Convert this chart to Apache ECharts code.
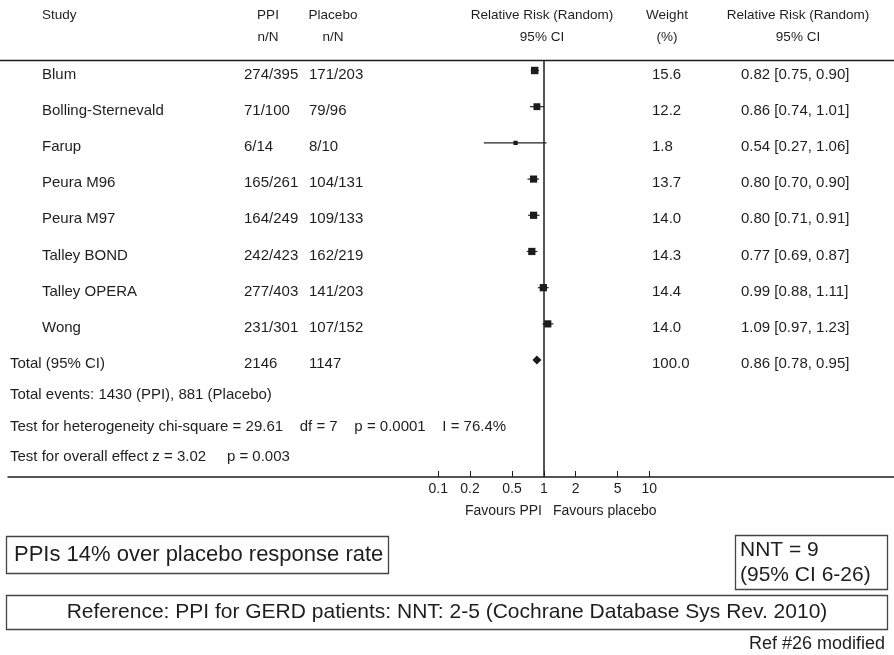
<!DOCTYPE html>
<html>
<head>
<meta charset="utf-8">
<script src="https://cdn.jsdelivr.net/npm/echarts@6/dist/echarts.min.js"></script>
<style>
  html, body { margin: 0; padding: 0; background: #ffffff; }
  #chart { width: 894px; height: 655px; }
</style>
</head>
<body>
<div id="chart"></div>
<script>
// ---- Study-level data (PPI vs placebo, relative risk, random effects) ----
const studies = ['Blum', 'Bolling-Sternevald', 'Farup', 'Peura M96', 'Peura M97', 'Talley BOND', 'Talley OPERA', 'Wong'];
const ppiEvents = [274, 71, 6, 165, 164, 242, 277, 231];
const ppiTotal = [395, 100, 14, 261, 249, 423, 403, 301];
const placeboEvents = [171, 79, 8, 104, 109, 162, 141, 107];
const placeboTotal = [203, 96, 10, 131, 133, 219, 203, 152];
const weights = [15.6, 12.2, 1.8, 13.7, 14.0, 14.3, 14.4, 14.0];
const rr = [0.82, 0.86, 0.54, 0.80, 0.80, 0.77, 0.99, 1.09];
const rrLow = [0.75, 0.74, 0.27, 0.70, 0.71, 0.69, 0.88, 0.97];
const rrHigh = [0.90, 1.01, 1.06, 0.90, 0.91, 0.87, 1.11, 1.23];

// ---- Pooled estimate ----
const totalLabel = 'Total (95% CI)';
const totalPpiN = 2146;
const totalPlaceboN = 1147;
const totalWeight = 100.0;
const totalRR = 0.86;
const totalLow = 0.78;
const totalHigh = 0.95;

// ---- Axis ticks ----
const tickValues = [0.1, 0.2, 0.5, 1, 2, 5, 10];

// ---- Summary lines ----
const summaryLines = [
  'Total events: 1430 (PPI), 881 (Placebo)',
  'Test for heterogeneity chi-square = 29.61    df = 7    p = 0.0001    I = 76.4%',
  'Test for overall effect z = 3.02     p = 0.003'
];

const FONT = '"Liberation Sans", Arial, Helvetica, sans-serif';
const INK = '#1e1e1e';
const tableFont = '15px ' + FONT;
const headFont = '13.5px ' + FONT;

const fmt2 = v => v.toFixed(2);
const ciText = (m, l, h) => fmt2(m) + ' [' + fmt2(l) + ', ' + fmt2(h) + ']';

// Column anchors (pixels)
const COL = { study: 42, total: 10, ppi: 244, placebo: 309, weight: 652, ci: 741 };
const TEXT_DROP = 4; // table text sits slightly below the marker row

const studyData = studies.map((s, i) => [rr[i], rrLow[i], rrHigh[i], i, weights[i]]);
const totalRow = studies.length;

const tableRows = studies.map((s, i) => ({
  value: [1, i],
  cells: [
    [COL.study, s],
    [COL.ppi, ppiEvents[i] + '/' + ppiTotal[i]],
    [COL.placebo, placeboEvents[i] + '/' + placeboTotal[i]],
    [COL.weight, weights[i].toFixed(1)],
    [COL.ci, ciText(rr[i], rrLow[i], rrHigh[i])]
  ]
}));
tableRows.push({
  value: [1, totalRow],
  cells: [
    [COL.total, totalLabel],
    [COL.ppi, String(totalPpiN)],
    [COL.placebo, String(totalPlaceboN)],
    [COL.weight, totalWeight.toFixed(1)],
    [COL.ci, ciText(totalRR, totalLow, totalHigh)]
  ]
});

function textEl(x, y, str, font, align) {
  return {
    type: 'text',
    x: x, y: y,
    style: {
      text: str, font: font, fill: INK,
      align: align || 'left', textAlign: align || 'left',
      verticalAlign: 'middle', textVerticalAlign: 'middle'
    }
  };
}

const chart = echarts.init(document.getElementById('chart'), null, { renderer: 'canvas' });

// Log axis spans the full width; 0.1 .. 10 occupy the central band.
const logMin = Math.pow(10, -5.0787);
const logMax = Math.pow(10, 3.3194);

const option = {
  backgroundColor: '#ffffff',
  animation: false,
  grid: { left: 8, right: 0, top: 61, bottom: 178, containLabel: false },
  xAxis: {
    type: 'log',
    logBase: 10,
    position: 'bottom',
    min: logMin,
    max: logMax,
    splitLine: { show: false },
    axisLine: { show: true, onZero: false, lineStyle: { color: INK, width: 1.5 } },
    axisTick: { show: true, inside: true, length: 6, customValues: tickValues, lineStyle: { color: INK, width: 1 } },
    axisLabel: {
      show: true, customValues: tickValues, margin: 5,
      color: INK, fontFamily: FONT, fontSize: 14,
      formatter: v => String(+Number(v).toPrecision(2))
    }
  },
  yAxis: {
    type: 'value',
    inverse: true,
    min: -0.262,
    max: 11.23,
    show: false
  },
  graphic: [
    // header rule
    { type: 'line', shape: { x1: 0, y1: 60.5, x2: 894, y2: 60.5 }, style: { stroke: INK, lineWidth: 1.5 } },
    // header text
    textEl(42, 15, 'Study', headFont, 'left'),
    textEl(268, 15, 'PPI', headFont, 'center'),
    textEl(268, 37, 'n/N', headFont, 'center'),
    textEl(333, 15, 'Placebo', headFont, 'center'),
    textEl(333, 37, 'n/N', headFont, 'center'),
    textEl(542, 15, 'Relative Risk (Random)', headFont, 'center'),
    textEl(542, 37, '95% CI', headFont, 'center'),
    textEl(667, 15, 'Weight', headFont, 'center'),
    textEl(667, 37, '(%)', headFont, 'center'),
    textEl(798, 15, 'Relative Risk (Random)', headFont, 'center'),
    textEl(798, 37, '95% CI', headFont, 'center'),
    // summary statistics
    textEl(10, 395, summaryLines[0], tableFont, 'left'),
    textEl(10, 427, summaryLines[1], tableFont, 'left'),
    textEl(10, 457, summaryLines[2], tableFont, 'left'),
    // favours labels
    textEl(542, 511, 'Favours PPI', '14px ' + FONT, 'right'),
    textEl(553, 511, 'Favours placebo', '14px ' + FONT, 'left'),
    // annotation boxes
    { type: 'rect', shape: { x: 6.5, y: 536.5, width: 382, height: 37 }, style: { fill: 'none', stroke: '#444', lineWidth: 1.3 } },
    textEl(14, 555, 'PPIs 14% over placebo response rate', '22px ' + FONT, 'left'),
    { type: 'rect', shape: { x: 735.5, y: 535.5, width: 152, height: 54 }, style: { fill: 'none', stroke: '#444', lineWidth: 1.3 } },
    textEl(740, 550, 'NNT = 9', '21px ' + FONT, 'left'),
    textEl(740, 575, '(95% CI 6-26)', '21px ' + FONT, 'left'),
    { type: 'rect', shape: { x: 6.5, y: 595.5, width: 881, height: 34 }, style: { fill: 'none', stroke: '#444', lineWidth: 1.3 } },
    textEl(447, 612, 'Reference: PPI for GERD patients: NNT: 2-5 (Cochrane Database Sys Rev. 2010)', '21px ' + FONT, 'center'),
    textEl(885, 644, 'Ref #26 modified', '18px ' + FONT, 'right')
  ],
  series: [
    {
      // per-study confidence intervals and weighted squares
      name: 'studies',
      type: 'custom',
      coordinateSystem: 'cartesian2d',
      encode: { x: [0, 1, 2], y: 3 },
      data: studyData,
      renderItem: function (params, api) {
        const row = api.value(3);
        const pLo = api.coord([api.value(1), row]);
        const pHi = api.coord([api.value(2), row]);
        const pC = api.coord([api.value(0), row]);
        const side = 2.7 + 1.2 * Math.sqrt(api.value(4));
        return {
          type: 'group',
          children: [
            { type: 'line', shape: { x1: pLo[0], y1: pLo[1], x2: pHi[0], y2: pHi[1] }, style: { stroke: '#222', lineWidth: 1.2 } },
            { type: 'rect', shape: { x: pC[0] - side / 2, y: pC[1] - side / 2, width: side, height: side }, style: { fill: '#1c1c1c' } }
          ]
        };
      },
      markLine: {
        silent: true,
        symbol: 'none',
        label: { show: false },
        lineStyle: { color: INK, width: 1.5, type: 'solid' },
        data: [{ xAxis: 1 }]
      },
      z: 3
    },
    {
      // pooled estimate diamond
      name: 'total',
      type: 'custom',
      coordinateSystem: 'cartesian2d',
      encode: { x: [0, 1, 2], y: 3 },
      data: [[totalRR, totalLow, totalHigh, totalRow]],
      renderItem: function (params, api) {
        const row = api.value(3);
        const pLo = api.coord([api.value(1), row]);
        const pHi = api.coord([api.value(2), row]);
        const pC = api.coord([api.value(0), row]);
        return {
          type: 'polygon',
          shape: { points: [[pLo[0], pC[1]], [pC[0], pC[1] - 4.5], [pHi[0], pC[1]], [pC[0], pC[1] + 4.5]] },
          style: { fill: '#1c1c1c' }
        };
      },
      z: 3
    },
    {
      // table columns, one group of cells per row
      name: 'table',
      type: 'custom',
      coordinateSystem: 'cartesian2d',
      encode: { x: 0, y: 1 },
      data: tableRows.map(r => r.value),
      renderItem: function (params, api) {
        const row = tableRows[params.dataIndex];
        const y = api.coord([1, api.value(1)])[1] + TEXT_DROP;
        return {
          type: 'group',
          children: row.cells.map(c => textEl(c[0], y, c[1], tableFont, 'left'))
        };
      },
      silent: true,
      z: 2
    }
  ]
};

chart.setOption(option);
</script>
</body>
</html>
